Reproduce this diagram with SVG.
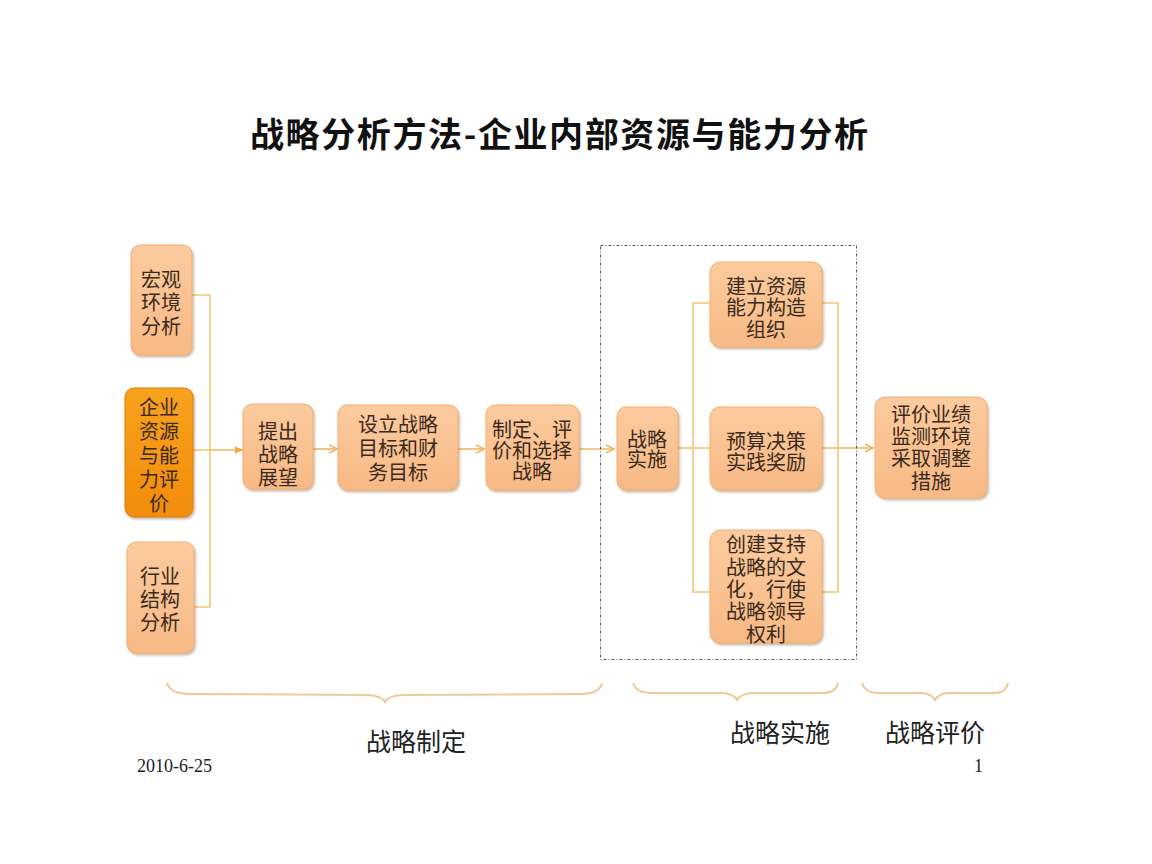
<svg xmlns="http://www.w3.org/2000/svg" width="1152" height="864" viewBox="0 0 1152 864">
<defs>
<linearGradient id="g1" x1="0" y1="0" x2="0" y2="1">
<stop offset="0" stop-color="#FBCB9F"/>
<stop offset="1" stop-color="#F8B985"/>
</linearGradient>
<linearGradient id="g2" x1="0" y1="0" x2="0" y2="1">
<stop offset="0" stop-color="#F8A21E"/>
<stop offset="1" stop-color="#F28C0A"/>
</linearGradient>
<filter id="sh" x="-20%" y="-20%" width="140%" height="140%">
<feDropShadow dx="1.5" dy="2" stdDeviation="1.2" flood-color="#8a6a4a" flood-opacity="0.45"/>
</filter>
<marker id="open" viewBox="0 0 10 10" refX="9" refY="5" markerWidth="10" markerHeight="10" markerUnits="userSpaceOnUse" orient="auto">
<path d="M1,1 L9,5 L1,9" fill="none" stroke="#F2B565" stroke-width="1.6"/>
</marker>
<marker id="fill" viewBox="0 0 10 10" refX="9" refY="5" markerWidth="9" markerHeight="9" markerUnits="userSpaceOnUse" orient="auto">
<path d="M0,1 L10,5 L0,9 Z" fill="#F2A83A"/>
</marker>
</defs>
<style>
.box{fill:url(#g1);stroke:#F3AE70;stroke-width:1;filter:url(#sh)}
.dark{fill:url(#g2);stroke:#E07E08;stroke-width:1;filter:url(#sh)}
.t{font-family:"Liberation Serif","Noto Sans CJK SC",serif;font-size:20px;fill:#3A2A1C;text-anchor:middle}
.ln{fill:none;stroke:#F3C774;stroke-width:1.6}
.ar{fill:none;stroke:#F2B565;stroke-width:1.6}
.br{fill:none;stroke:#EBCB98;stroke-width:2}
.lab{font-family:"Liberation Serif","Noto Sans CJK SC",serif;font-size:25px;fill:#222;text-anchor:middle}
.ft{font-family:"Liberation Serif","Noto Sans CJK SC",serif;font-size:18px;fill:#222}
</style>
<rect width="1152" height="864" fill="#ffffff"/>
<text x="250" y="147" font-family="Noto Sans CJK SC, sans-serif" font-size="34" font-weight="bold" fill="#111" textLength="618" lengthAdjust="spacing">战略分析方法-企业内部资源与能力分析</text>

<g id="connectors">
<polyline class="ln" points="192,295 210,295 210,607 194,607"/>
<line class="ln" x1="193" y1="450" x2="210" y2="450"/>
<line class="ar" x1="210" y1="450" x2="243" y2="450" stroke="#F2A83A" marker-end="url(#fill)"/>
<line class="ar" x1="313" y1="449" x2="337" y2="449" marker-end="url(#open)"/>
<line class="ar" x1="458" y1="449" x2="484" y2="449" marker-end="url(#open)"/>
<line class="ar" x1="579" y1="449" x2="614" y2="449" marker-end="url(#open)"/>
<line class="ln" x1="678" y1="448" x2="693" y2="448"/>
<polyline class="ln" points="710,303 693,303 693,592 710,592"/>
<line class="ln" x1="693" y1="448" x2="710" y2="448"/>
<polyline class="ln" points="822,303 838,303 838,592 822,592"/>
<line class="ar" x1="822" y1="448" x2="873" y2="448" stroke="#F2A83A" marker-end="url(#open)"/>
</g>

<rect id="impl-frame" x="600.5" y="245.5" width="256" height="414" fill="none" stroke="#555" stroke-width="1" stroke-dasharray="3,2,1,2"/>

<g id="n-macro">
<rect class="box" x="131" y="245" width="61" height="110" rx="9"/>
<text class="t" x="161" y="287">宏观</text>
<text class="t" x="161" y="310">环境</text>
<text class="t" x="161" y="334">分析</text>
</g>
<g id="n-internal">
<rect class="dark" x="125" y="388" width="68" height="129" rx="9"/>
<text class="t" x="159" y="415">企业</text>
<text class="t" x="159" y="439">资源</text>
<text class="t" x="159" y="463">与能</text>
<text class="t" x="159" y="487">力评</text>
<text class="t" x="159" y="511">价</text>
</g>
<g id="n-industry">
<rect class="box" x="127" y="542" width="67" height="111" rx="9"/>
<text class="t" x="160" y="584">行业</text>
<text class="t" x="160" y="607">结构</text>
<text class="t" x="160" y="630">分析</text>
</g>
<g id="n-vision">
<rect class="box" x="243" y="404" width="70" height="85" rx="9"/>
<text class="t" x="278" y="439">提出</text>
<text class="t" x="278" y="462">战略</text>
<text class="t" x="278" y="485">展望</text>
</g>
<g id="n-goals">
<rect class="box" x="338" y="405" width="120" height="85" rx="9"/>
<text class="t" x="398" y="432">设立战略</text>
<text class="t" x="398" y="456">目标和财</text>
<text class="t" x="398" y="480">务目标</text>
</g>
<g id="n-choose">
<rect class="box" x="486" y="405" width="93" height="85" rx="9"/>
<text class="t" x="532" y="437" font-size="19">制定、评</text>
<text class="t" x="532" y="458" font-size="19">价和选择</text>
<text class="t" x="532" y="479" font-size="19">战略</text>
</g>
<g id="n-impl">
<rect class="box" x="617" y="407" width="61" height="83" rx="9"/>
<text class="t" x="647" y="447">战略</text>
<text class="t" x="647" y="467">实施</text>
</g>
<g id="n-org">
<rect class="box" x="710" y="262" width="112" height="85" rx="10"/>
<text class="t" x="766" y="294">建立资源</text>
<text class="t" x="766" y="315">能力构造</text>
<text class="t" x="766" y="337">组织</text>
</g>
<g id="n-budget">
<rect class="box" x="710" y="407" width="112" height="83" rx="10"/>
<text class="t" x="766" y="449">预算决策</text>
<text class="t" x="766" y="470">实践奖励</text>
</g>
<g id="n-culture">
<rect class="box" x="710" y="530" width="112" height="113" rx="10"/>
<text class="t" x="766" y="552">创建支持</text>
<text class="t" x="766" y="575">战略的文</text>
<text class="t" x="766" y="597">化，行使</text>
<text class="t" x="766" y="619">战略领导</text>
<text class="t" x="766" y="642">权利</text>
</g>
<g id="n-eval">
<rect class="box" x="875" y="397" width="112" height="101" rx="10"/>
<text class="t" x="931" y="422">评价业绩</text>
<text class="t" x="931" y="444">监测环境</text>
<text class="t" x="931" y="466">采取调整</text>
<text class="t" x="931" y="489">措施</text>
</g>

<g id="braces">
<path class="br" d="M167,683 Q170,694 190,694 L368,695 Q382,696 385,702 Q388,696 402,695 L580,694 Q600,694 602,683"/>
<path class="br" d="M633,683 Q636,693 652,693 L722,693 Q734,694 737,700 Q740,694 752,693 L822,693 Q836,693 838,683"/>
<path class="br" d="M862,683 Q865,693 878,693 L922,693 Q932,694 935,700 Q938,694 948,693 L994,693 Q1006,693 1008,683"/>
</g>

<text class="lab" x="416" y="751">战略制定</text>
<text class="lab" x="780" y="742">战略实施</text>
<text class="lab" x="935" y="742">战略评价</text>
<text class="ft" x="137" y="772">2010-6-25</text>
<text class="ft" x="974" y="772">1</text>
</svg>
